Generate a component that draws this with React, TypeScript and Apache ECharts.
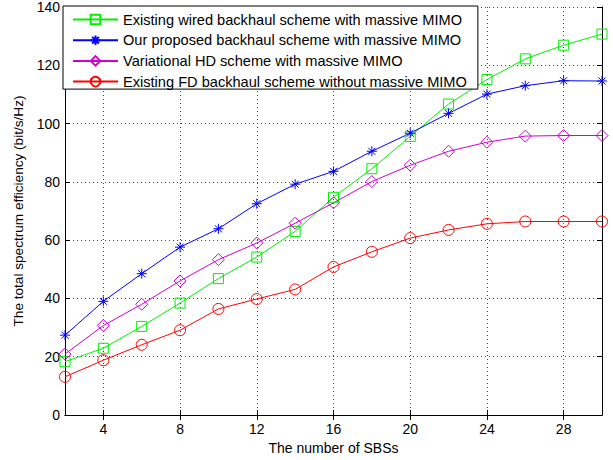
import React, { useEffect, useRef } from "react";
import * as echarts from "echarts";

const sbsCounts = [2, 4, 6, 8, 10, 12, 14, 16, 18, 20, 22, 24, 26, 28, 30];
const yTicks = [0, 20, 40, 60, 80, 100, 120, 140];

const wiredMassive = [18.3, 22.9, 30.4, 38.4, 46.8, 54.2, 63, 74.7, 84.5, 95.6, 106.7, 115.1, 122.2, 126.9, 130.7];
const proposedMassive = [27.4, 39, 48.5, 57.6, 63.9, 72.5, 79.2, 83.6, 90.5, 96.7, 103.5, 110.1, 113, 114.7, 114.6];
const hdMassive = [20.9, 30.7, 38, 46, 53.3, 59, 65.8, 72.8, 80.1, 85.7, 90.5, 93.6, 95.7, 95.9, 95.9];
const fdNoMassive = [13.1, 18.8, 24.1, 29.1, 36.4, 39.8, 43.1, 50.8, 56, 60.7, 63.5, 65.6, 66.4, 66.4, 66.4];

const seriesNames = [
  "Existing wired backhaul scheme with massive MIMO",
  "Our proposed backhaul scheme with massive MIMO",
  "Variational HD scheme with massive MIMO",
  "Existing FD backhaul scheme without massive MIMO",
];

const FONT = "Liberation Sans";
const asterisk = "path://M0,5L10,5M5,0L5,10M1.5,1.5L8.5,8.5M8.5,1.5L1.5,8.5";

export default function App() {
  const ref = useRef<HTMLDivElement>(null);
  useEffect(() => {
    if (!ref.current) return;
    const chart = echarts.init(ref.current, null, { renderer: "svg" });
    const cats = sbsCounts.map(String);
    const showEvery4 = (_i: number, v: string) => Number(v) % 4 === 0;
    const mk = (name: string, data: number[], color: string, symbol: string, size: number) => ({
      name,
      type: "line",
      data,
      symbol,
      symbolSize: size,
      showSymbol: true,
      lineStyle: { color, width: 1 },
      itemStyle: { color: "none", borderColor: color, borderWidth: 1 },
      emphasis: { disabled: true },
    });
    chart.setOption({
      animation: false,
      textStyle: { fontFamily: FONT },
      grid: { left: 65, right: 11, top: 6, bottom: 45 },
      legend: {
        orient: "vertical",
        left: 63,
        top: 6,
        padding: [6, 11, 0, 9],
        itemGap: 5.7,
        itemWidth: 45,
        itemHeight: 12,
        backgroundColor: "#fff",
        borderColor: "#000",
        borderWidth: 1,
        textStyle: { fontFamily: FONT, fontSize: 14.6, color: "#000" },
        data: seriesNames,
      },
      xAxis: [
        {
          type: "category",
          data: cats,
          boundaryGap: false,
          name: "The number of SBSs",
          nameLocation: "middle",
          nameGap: 22,
          nameTextStyle: { fontFamily: FONT, fontSize: 14, color: "#000" },
          axisLine: { lineStyle: { color: "#000", width: 1 } },
          axisTick: { inside: true, length: 5, interval: showEvery4, lineStyle: { color: "#000" } },
          axisLabel: { interval: showEvery4, color: "#000", fontSize: 14, margin: 7, fontFamily: FONT },
          splitLine: { show: true, interval: showEvery4, lineStyle: { color: "#444", type: [1, 3], width: 1 } },
        },
        {
          type: "category",
          data: cats,
          boundaryGap: false,
          position: "top",
          axisLine: { lineStyle: { color: "#000", width: 1 } },
          axisTick: { inside: true, length: 5, interval: showEvery4, lineStyle: { color: "#000" } },
          axisLabel: { show: false },
          splitLine: { show: false },
        },
      ],
      yAxis: [
        {
          type: "value",
          min: 0,
          max: 140,
          interval: 20,
          name: "The total spectrum efficiency (bit/s/Hz)",
          nameLocation: "middle",
          nameGap: 35,
          nameTextStyle: { fontFamily: FONT, fontSize: 13.6, color: "#000" },
          axisLine: { show: true, lineStyle: { color: "#000", width: 1 } },
          axisTick: { show: true, inside: true, length: 5, lineStyle: { color: "#000" } },
          axisLabel: {
            color: "#000",
            fontSize: 14,
            margin: 5,
            fontFamily: FONT,
            formatter: (v: number) => (yTicks.includes(v) ? String(v) : ""),
          },
          splitLine: { show: true, lineStyle: { color: "#444", type: [1, 3], width: 1 } },
        },
        {
          type: "value",
          min: 0,
          max: 140,
          interval: 20,
          position: "right",
          axisLine: { show: true, lineStyle: { color: "#000", width: 1 } },
          axisTick: { show: true, inside: true, length: 5, lineStyle: { color: "#000" } },
          axisLabel: { show: false },
          splitLine: { show: false },
        },
      ],
      series: [
        mk(seriesNames[0], wiredMassive, "#00ee00", "rect", 10),
        mk(seriesNames[1], proposedMassive, "#0000ff", asterisk, 10),
        mk(seriesNames[2], hdMassive, "#d000d0", "diamond", 12),
        mk(seriesNames[3], fdNoMassive, "#ff0000", "circle", 11),
      ],
    });
    return () => chart.dispose();
  }, []);
  return <div ref={ref} style={{ width: 613, height: 460, position: "absolute", left: 0, top: 0, background: "#fff" }} />;
}
